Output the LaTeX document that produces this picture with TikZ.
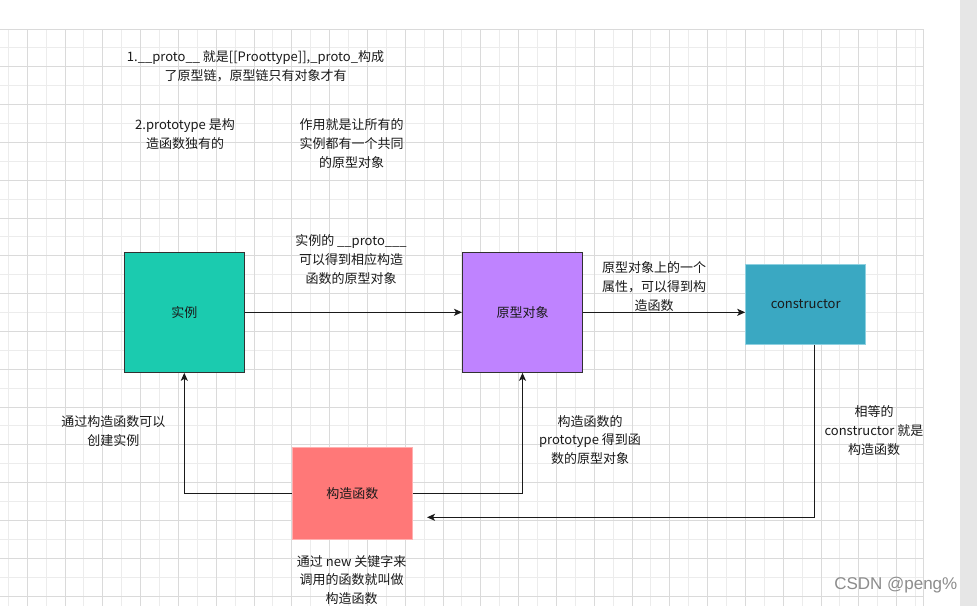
\documentclass[tikz,border=0pt]{standalone}
\usepackage{fontspec}
\setmainfont{Noto Sans CJK SC}
\newfontfamily\wmfont{Liberation Sans}
\usetikzlibrary{arrows.meta}
\newcommand{\lblsize}{\fontsize{13pt}{18.7pt}\selectfont}
\definecolor{gridminor}{HTML}{ECECEC}
\definecolor{gridmajor}{HTML}{DADADA}
\definecolor{cteal}{HTML}{1BCBAF}
\definecolor{cpurple}{HTML}{BF83FF}
\definecolor{cblue}{HTML}{3AA8C2}
\definecolor{cblueline}{HTML}{8ED0E0}
\definecolor{cred}{HTML}{FF7878}
\definecolor{credline}{HTML}{FFB0B0}
\definecolor{lineclr}{HTML}{1A1A1A}
\definecolor{sidegray}{HTML}{E6E6E6}
\begin{document}
\begin{tikzpicture}[x=1pt,y=-1pt,
  box/.style={line width=1pt, minimum width=120pt, minimum height=120pt, inner sep=0pt, font=\lblsize, text=lineclr},
  lbl/.style={align=center, font=\lblsize, inner sep=0pt, text=lineclr},
  arr/.style={draw=lineclr, line width=1.2pt, -{Stealth[length=8pt,width=7pt,inset=2pt]}},
  gmin/.style={draw=gridminor, line width=0.9pt},
  gmaj/.style={draw=gridmajor, line width=0.9pt}]
\useasboundingbox (0,0) rectangle (977,606);
\fill[white] (0,0) rectangle (977,606);
\fill[sidegray] (960,0) rectangle (977,606);
% grid
\foreach \k in {0,...,24} { \draw[gmin] ({8.3+37.8*\k},29) -- ++(0,577); }
\foreach \k in {0,...,14} { \draw[gmin] (0,{47.9+37.8*\k}) -- ++(923,0); }
\foreach \k in {0,...,23} { \draw[gmaj] ({27.2+37.8*\k},29) -- ++(0,577); }
\foreach \k in {0,...,15} { \draw[gmaj] (0,{29+37.8*\k}) -- ++(923,0); }
\draw[gmaj] (923,29) -- (923,606);

% boxes
\node[box, draw=lineclr!90, fill=cteal] (shi) at (184.3,312.3) {实例};
\node[box, draw=lineclr!90, fill=cpurple] (yuan) at (522.5,312.3) {原型对象};
\node[box, draw=cblueline, fill=cblue, minimum height=80pt] (ctor) at (805.7,304.3) {constructor};
\node[box, draw=credline, fill=cred, minimum height=92pt] (gz) at (352.4,493.5) {构造函数};

% connectors
\coordinate (back) at (427,517.3);
\draw[arr] (shi.east) -- (yuan.west);
\draw[arr] (yuan.east) -- (yuan.east -| ctor.west);
\draw[arr] (gz.west) -| (shi.south);
\draw[arr] (gz.east) -| (yuan.south);
\draw[arr] ([xshift=8.5pt]ctor.south) |- (back);

% labels
\node[lbl] (t1) at (255.5,66.2) {1.\_\_proto\_\_ 就是[[Proottype]],\_proto\_构成\\了原型链，原型链只有对象才有};
\node[lbl] (t2) at (185,134.2) {2.prototype 是构\\造函数独有的};
\node[lbl] (t3) at (351.7,143.7) {作用就是让所有的\\实例都有一个共同\\的原型对象};
\node[lbl] (t4) at (351,259.5) {实例的 \_\_proto\_\_\_\\可以得到相应构造\\函数的原型对象};
\node[lbl] (t5) at (654,286.5) {原型对象上的一个\\属性，可以得到构\\造函数};
\node[lbl] (t6) at (113.3,430.8) {通过构造函数可以\\创建实例};
\node[lbl] (t7) at (590,440) {构造函数的\\prototype 得到函\\数的原型对象};
\node[lbl] (t8) at (874,430.5) {相等的\\constructor 就是\\构造函数};
\node[lbl] (t9) at (351.7,580) {通过 new 关键字来\\调用的函数就叫做\\构造函数};

% watermark
\node[font=\wmfont\fontsize{17pt}{17pt}\selectfont, text=black!45, inner sep=0pt] (wm) at (895.8,585) {CSDN @peng\%};
\end{tikzpicture}
\end{document}
